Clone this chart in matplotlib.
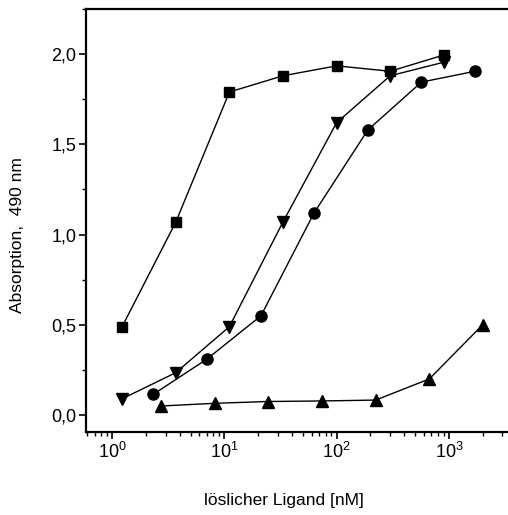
import matplotlib
matplotlib.use("Agg")
import matplotlib.pyplot as plt
from matplotlib.ticker import FuncFormatter, MultipleLocator, LogLocator

# (3-fold dilution series)
x_square = [1.23, 3.7, 11.1, 33.3, 100, 300, 900]
y_square = [0.49, 1.07, 1.79, 1.88, 1.935, 1.905, 1.995]

x_tri_down = [1.23, 3.7, 11.1, 33.3, 100, 300, 900]
y_tri_down = [0.09, 0.235, 0.49, 1.07, 1.62, 1.88, 1.955]

x_circle = [2.33, 7.0, 21.2, 63, 190, 570, 1710]
y_circle = [0.115, 0.31, 0.55, 1.12, 1.58, 1.845, 1.905]

x_tri_up = [2.73, 8.2, 24.5, 74, 223, 670, 2000]
y_tri_up = [0.05, 0.065, 0.075, 0.078, 0.083, 0.2, 0.5]

plt.rcParams["font.family"] = ["Liberation Sans", "DejaVu Sans"]

fig = plt.figure(figsize=(5.08, 5.15), dpi=100)
ax = fig.add_axes([86 / 508, 83 / 515, 426 / 508, 423 / 515])

style = dict(color="black", linewidth=1.0, markeredgecolor="black",
             markerfacecolor="black")
ax.plot(x_square, y_square, marker="s", markersize=7, **style)
ax.plot(x_tri_down, y_tri_down, marker="v", markersize=8.5, **style)
ax.plot(x_circle, y_circle, marker="o", markersize=8, **style)
ax.plot(x_tri_up, y_tri_up, marker="^", markersize=8.5, **style)

ax.set_xscale("log")
ax.set_xlim(0.586, 3650)
ax.set_ylim(-0.094, 2.25)

ax.yaxis.set_major_locator(MultipleLocator(0.5))
ax.yaxis.set_minor_locator(MultipleLocator(0.25))
ax.yaxis.set_major_formatter(FuncFormatter(lambda v, p: f"{v:.1f}".replace(".", ",")))
ax.xaxis.set_major_locator(LogLocator(base=10, numticks=10))
ax.xaxis.set_minor_locator(LogLocator(base=10, subs=range(2, 10), numticks=20))

ax.tick_params(which="major", direction="out", length=5, width=1.2,
               labelsize=13, pad=2, top=False, right=False)
ax.tick_params(which="minor", direction="out", length=3, width=1.0,
               top=False, right=False)

for side in ["left", "bottom", "top"]:
    ax.spines[side].set_linewidth(1.6)
ax.spines["right"].set_visible(False)

fig.text(18 / 508, 1 - 235 / 515, "Absorption,  490 nm", rotation=90,
         ha="center", va="center", fontsize=12.5)
fig.text(284 / 508, 1 - 501 / 515, "löslicher Ligand [nM]",
         ha="center", va="center", fontsize=12.5)

fig.savefig("out.png", dpi=100)
